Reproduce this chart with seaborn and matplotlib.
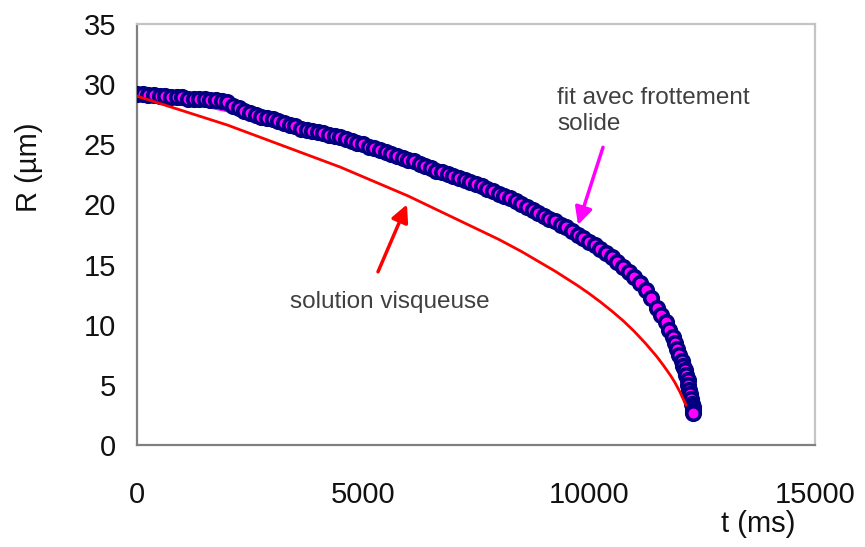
"""
plot.py
Bubble radius R versus time t: measured points, solid-friction fit and viscous solution.
"""

import pandas as pd
import matplotlib
matplotlib.use("Agg")
import matplotlib.pyplot as plt
import seaborn as sns

t_data = [0, 125, 250, 375, 500, 625, 750, 875, 1000, 1125, 1250, 1375, 1500,
          1625, 1750, 1875, 2000, 2125, 2250, 2375, 2500, 2625, 2750, 2875,
          3000, 3125, 3250, 3375, 3500, 3625, 3750, 3875, 4000, 4125, 4250,
          4375, 4500, 4625, 4750, 4875, 5000, 5125, 5250, 5375, 5500, 5625,
          5750, 5875, 6000, 6125, 6250, 6375, 6500, 6625, 6750, 6875, 7000,
          7125, 7250, 7375, 7500, 7625, 7750, 7875, 8000, 8125, 8250, 8375,
          8500, 8625, 8750, 8875, 9000, 9125, 9250, 9375, 9500, 9625, 9750,
          9875, 10000, 10125, 10250, 10375, 10500, 10625, 10750, 10875, 11000,
          11125, 11250, 11375, 11500, 11600, 11700, 11775, 11850, 11900, 11950,
          12000, 12050, 12090, 12120, 12150, 12180, 12200, 12220, 12240, 12260,
          12280, 12290, 12300, 12310]
R_data = [29.2, 29.2, 29.1, 29.1, 29.0, 29.0, 28.9, 28.9, 28.9, 28.8, 28.8, 28.8, 28.8,
          28.7, 28.7, 28.6, 28.5, 28.2, 28.0, 27.8, 27.6, 27.4, 27.3, 27.2,
          27.1, 26.9, 26.8, 26.6, 26.5, 26.3, 26.2, 26.1, 26.0, 25.9, 25.8,
          25.7, 25.6, 25.4, 25.3, 25.1, 25.0, 24.8, 24.7, 24.5, 24.4, 24.2,
          24.0, 23.9, 23.7, 23.6, 23.4, 23.2, 23.0, 22.8, 22.7, 22.5, 22.4,
          22.2, 22.0, 21.9, 21.7, 21.5, 21.3, 21.1, 20.9, 20.7, 20.5, 20.3,
          20.0, 19.8, 19.5, 19.3, 19.0, 18.8, 18.6, 18.3, 18.1, 17.8, 17.5,
          17.2, 16.9, 16.6, 16.3, 16.0, 15.6, 15.2, 14.8, 14.4, 14.0,
          13.5, 12.9, 12.2, 11.4, 10.8, 10.2, 9.6, 9.0, 8.5, 8.0,
          7.5, 7.0, 6.6, 6.2, 5.8, 5.4, 5.0, 4.6, 4.2, 3.8,
          3.4, 3.2, 2.9, 2.7]

# fit with solid friction
t_fit = [0, 500, 1000, 1500, 2000, 2500, 3000, 3500, 4000, 4500, 5000, 5500,
         6000, 6500, 7000, 7500, 8000, 8500, 9000, 9500, 10000, 10500, 11000,
         11250, 11500, 11650, 11800, 11900, 12000, 12075, 12150, 12200, 12250, 12300]
R_fit = [29.2, 28.8, 28.5, 28.2, 27.8, 27.4, 27.0, 26.5, 26.0, 25.5, 25.0, 24.5,
         23.9, 23.3, 22.6, 21.8, 21.0, 20.1, 19.2, 18.1, 16.9, 15.5, 13.8,
         12.8, 11.5, 10.6, 9.6, 8.8, 7.8, 7.0, 6.0, 5.2, 4.3, 3.0]

# viscous solution
t_visc = [0, 500, 1000, 1500, 2000, 2500, 3000, 3500, 4000, 4500, 5000, 5500,
          6000, 6500, 7000, 7250, 7500, 7750, 8000, 8250, 8500, 8750, 9000,
          9250, 9500, 9750, 10000, 10250, 10500, 10750, 11000, 11250, 11500,
          11650, 11800, 11900, 12000, 12075, 12150]
R_visc = [29.0, 28.4, 27.8, 27.2, 26.6, 25.9, 25.2, 24.5, 23.8, 23.1, 22.3, 21.5,
          20.7, 19.8, 18.9, 18.45, 18.0, 17.55, 17.1, 16.6, 16.1, 15.55, 15.0,
          14.45, 13.85, 13.25, 12.6, 11.9, 11.15, 10.35, 9.45, 8.45, 7.35,
          6.6, 5.8, 5.2, 4.5, 3.9, 3.3]

x_ticks = [0, 5000, 10000, 15000]
y_ticks = [0, 5, 10, 15, 20, 25, 30, 35]

df_data = pd.DataFrame({"t": t_data, "R": R_data})
df_fit = pd.DataFrame({"t": t_fit, "R": R_fit})
df_visc = pd.DataFrame({"t": t_visc, "R": R_visc})

sns.set_theme(style="white")
plt.rcParams["font.family"] = ["Liberation Sans", "DejaVu Sans"]

fig = plt.figure(figsize=(8.65, 5.47), dpi=100)
ax = fig.add_axes([137 / 865, 1 - 445 / 547, 678 / 865, 421 / 547])

sns.lineplot(data=df_fit, x="t", y="R", ax=ax, color="#ff00ff", lw=2.5, zorder=2)
sns.scatterplot(data=df_data, x="t", y="R", ax=ax, marker="o", s=95,
                color="#ff00ff", edgecolor="#000080", linewidth=2.6, zorder=3)
sns.lineplot(data=df_visc, x="t", y="R", ax=ax, color="#ff0000", lw=2.0, zorder=4)

ax.set_xlim(0, 15000)
ax.set_ylim(0, 35)
ax.set_xticks(x_ticks)
ax.set_yticks(y_ticks)
ax.tick_params(axis="both", direction="out", length=6, width=1.5,
               color="#808080", labelsize=21, labelcolor="#111111")
ax.tick_params(axis="x", pad=20)
ax.tick_params(axis="y", pad=9)

for side in ["left", "bottom"]:
    ax.spines[side].set_color("#808080")
    ax.spines[side].set_linewidth(1.6)
for side in ["top", "right"]:
    ax.spines[side].set_color("#c4c4c4")
    ax.spines[side].set_linewidth(1.6)

ax.set_xlabel("t (ms)", fontsize=21, color="#111111")
ax.set_ylabel("R (µm)", fontsize=21, color="#111111")
ax.xaxis.set_label_coords(0.916, -0.155)
ax.yaxis.set_label_coords(-0.138, 0.66)

# annotations
ax.text(9292, 29.8, "fit avec frottement\nsolide", fontsize=17.5, color="#404040",
        ha="left", va="top", linespacing=1.25)
ax.annotate("", xy=(9757, 18.3), xytext=(10310, 24.75),
            arrowprops=dict(arrowstyle="-|>", color="#ff00ff", lw=2.5,
                            mutation_scale=26, shrinkA=0, shrinkB=0))
ax.text(3385, 11.9, "solution visqueuse", fontsize=17.5, color="#404040",
        ha="left", va="center")
ax.annotate("", xy=(5973, 20.0), xytext=(5332, 14.4),
            arrowprops=dict(arrowstyle="-|>", color="#ff0000", lw=2.5,
                            mutation_scale=26, shrinkA=0, shrinkB=0))

plt.savefig("out.png", dpi=100)
plt.close()
